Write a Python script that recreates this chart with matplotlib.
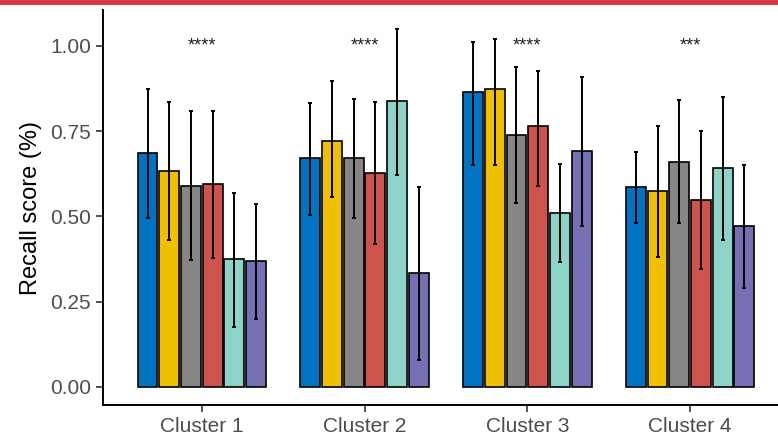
import numpy as np
import matplotlib.pyplot as plt
from matplotlib.lines import Line2D

plt.rcParams['font.family'] = ['Liberation Sans', 'DejaVu Sans']

# datos
clusters = ['Cluster 1', 'Cluster 2', 'Cluster 3', 'Cluster 4']
signif = ['****', '****', '****', '***']
colors = ['#0073C2', '#EFC000', '#868686', '#CD534C', '#8DD3C7', '#7570B3']

means = [
    [0.686, 0.632, 0.590, 0.596, 0.376, 0.370],
    [0.670, 0.722, 0.672, 0.628, 0.838, 0.333],
    [0.866, 0.874, 0.740, 0.766, 0.511, 0.692],
    [0.585, 0.573, 0.660, 0.548, 0.641, 0.472],
]
lower = [
    [0.495, 0.430, 0.372, 0.378, 0.176, 0.200],
    [0.505, 0.558, 0.495, 0.420, 0.620, 0.080],
    [0.650, 0.652, 0.540, 0.590, 0.365, 0.472],
    [0.480, 0.382, 0.480, 0.345, 0.432, 0.290],
]
upper = [
    [0.874, 0.836, 0.808, 0.810, 0.570, 0.536],
    [0.832, 0.896, 0.845, 0.836, 1.050, 0.586],
    [1.010, 1.020, 0.938, 0.925, 0.655, 0.910],
    [0.690, 0.766, 0.842, 0.750, 0.850, 0.650],
]

fig = plt.figure(figsize=(7.78, 4.41), dpi=100)
ax = fig.add_axes([0.1324, 0.0816, 0.8676, 0.8957])

n = len(colors)
slot = 0.8 / n
x = np.arange(1, len(clusters) + 1)

for j in range(n):
    pos = x - 0.4 + slot * (j + 0.5)
    m = np.array([row[j] for row in means])
    lo = np.array([row[j] for row in lower])
    hi = np.array([row[j] for row in upper])
    ax.bar(pos, m, width=0.122, color=colors[j], edgecolor='black', linewidth=1.2, zorder=2)
    ax.errorbar(pos, m, yerr=[m - lo, hi - m], fmt='none', ecolor='black',
                elinewidth=1.4, capsize=1.2, capthick=1.4, zorder=3)

# asteriscos de significancia
for xi, s in zip(x, signif):
    ax.text(xi, 1.0, s, ha='center', va='center', fontsize=13, color='#222222')

ax.set_xlim(0.393, 4.54)
ax.set_ylim(-0.053, 1.105)
ax.set_xticks(x)
ax.set_xticklabels(clusters, fontsize=15, color='#4d4d4d')
ax.set_yticks([0, 0.25, 0.5, 0.75, 1.0])
ax.set_yticklabels(['0.00', '0.25', '0.50', '0.75', '1.00'], fontsize=15, color='#4d4d4d')
ax.set_ylabel('Recall score (%)', fontsize=17, color='black', labelpad=6)
ax.tick_params(axis='both', length=5, width=1.2, color='#333333')

for side in ['top', 'right']:
    ax.spines[side].set_visible(False)
for side in ['left', 'bottom']:
    ax.spines[side].set_linewidth(1.4)
    ax.spines[side].set_color('black')

# franja roja superior
fig.add_artist(Line2D([0, 1], [0.996, 0.996], transform=fig.transFigure,
                      color='#D9333F', linewidth=3.5))

fig.savefig('out.png', dpi=100)
